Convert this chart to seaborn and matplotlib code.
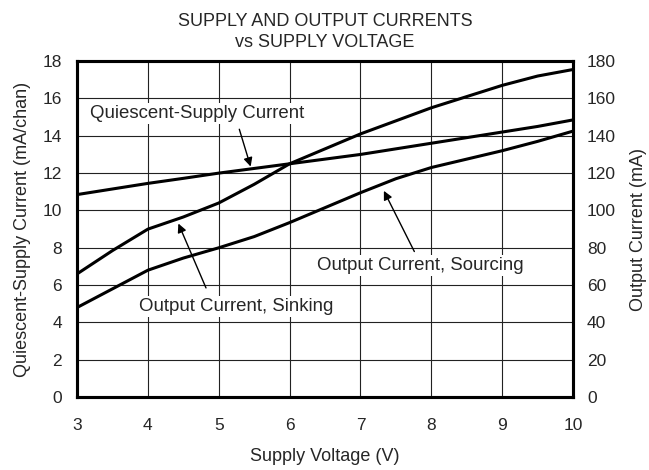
import numpy as np
import pandas as pd
import matplotlib
matplotlib.use("Agg")
import matplotlib.pyplot as plt
import seaborn as sns

#--------------------Data------------------------------------------
voltage = [3, 3.5, 4, 4.5, 5, 5.5, 6, 6.5, 7, 7.5, 8, 8.5, 9, 9.5, 10]
quiescent = [10.85, 11.15, 11.45, 11.72, 12.0, 12.25, 12.5, 12.75, 13.0, 13.3, 13.6, 13.9, 14.2, 14.5, 14.85]   # mA/chan
sinking = [66, 78.5, 90, 96.5, 104, 114, 125, 133, 141, 148, 155, 161, 167, 172, 175.5]                          # mA
sourcing = [48, 58, 68, 74.5, 80, 86, 93.5, 101.5, 109.5, 117, 123, 127.5, 132, 137, 142.5]                      # mA

x_ticks = [3, 4, 5, 6, 7, 8, 9, 10]
left_ticks = [0, 2, 4, 6, 8, 10, 12, 14, 16, 18]
right_ticks = [0, 20, 40, 60, 80, 100, 120, 140, 160, 180]

df = pd.DataFrame({"voltage": voltage, "quiescent": quiescent,
                   "sinking": sinking, "sourcing": sourcing})

#--------------------Plot-----------------------
sns.set_style("white")
plt.rcParams["font.family"] = ["Liberation Sans", "DejaVu Sans"]

fig = plt.figure(figsize=(6.49, 4.70), dpi=100)
ax = fig.add_axes([0.1187, 0.155, 0.7643, 0.715])
ax2 = ax.twinx()

sns.lineplot(data=df, x="voltage", y="quiescent", ax=ax, color="black", linewidth=2.2)
sns.lineplot(data=df, x="voltage", y="sinking", ax=ax2, color="black", linewidth=2.2)
sns.lineplot(data=df, x="voltage", y="sourcing", ax=ax2, color="black", linewidth=2.2)

ax.set_xlim(3, 10)
ax.set_ylim(0, 18)
ax2.set_ylim(0, 180)
ax.set_xticks(x_ticks)
ax.set_yticks(left_ticks)
ax2.set_yticks(right_ticks)
ax.grid(True, color="#222222", linewidth=0.8)
ax.set_axisbelow(True)

ax.tick_params(axis="x", length=0, labelsize=12.5, pad=15)
ax.tick_params(axis="y", length=0, labelsize=12.5, pad=11)
ax2.tick_params(axis="y", length=0, labelsize=12.5, pad=10)
for a in (ax, ax2):
    for s in a.spines.values():
        s.set_linewidth(2.2)
        s.set_color("black")

ax.set_xlabel("Supply Voltage (V)", fontsize=13, labelpad=11)
ax.set_ylabel("Quiescent-Supply Current (mA/chan)", fontsize=13, labelpad=8)
ax2.set_ylabel("Output Current (mA)", fontsize=13, labelpad=10)
ax.set_title("SUPPLY AND OUTPUT CURRENTS\nvs SUPPLY VOLTAGE", fontsize=13, pad=10, linespacing=1.3)

box = dict(facecolor="white", edgecolor="none", pad=1.5)
arrow = dict(arrowstyle="-|>", color="black", lw=1, mutation_scale=13, shrinkA=0, shrinkB=0)

ax.text(3.19, 15.17, "Quiescent-Supply Current", fontsize=13.4, va="center", ha="left", bbox=box)
ax.annotate("", xy=(5.45, 12.35), xytext=(5.29, 14.35), arrowprops=arrow)

ax.text(3.87, 4.85, "Output Current, Sinking", fontsize=13.4, va="center", ha="left", bbox=box)
ax.annotate("", xy=(4.43, 9.3), xytext=(4.82, 5.85), arrowprops=arrow)

ax.text(6.38, 7.04, "Output Current, Sourcing", fontsize=13.4, va="center", ha="left", bbox=box)
ax.annotate("", xy=(7.33, 11.05), xytext=(7.76, 7.8), arrowprops=arrow)

plt.savefig("out.png", dpi=100)
